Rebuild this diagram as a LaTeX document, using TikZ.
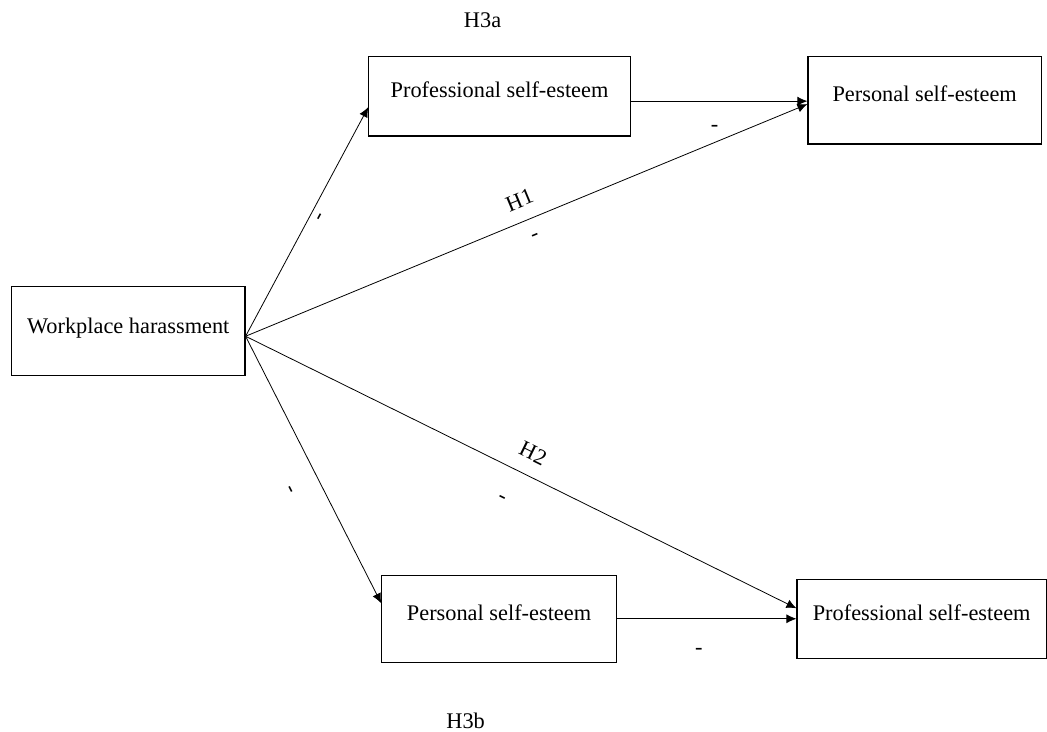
\documentclass[tikz,border=0pt]{standalone}
\usepackage{fontspec}
\setmainfont{Liberation Serif}
\usetikzlibrary{arrows.meta,positioning,calc}

\begin{document}
\begin{tikzpicture}[
  font=\fontsize{11.2}{13}\selectfont,
  box/.style={draw, line width=0.6pt, align=center, inner sep=0pt, text height=1.6ex, text depth=1.2ex},
  hyp/.style={inner sep=0pt},
  arrow/.style={-{Latex[length=5pt,width=4.5pt]}, line width=0.4pt}
]
\node[box, minimum width=117pt, minimum height=44.5pt] (wh) {Workplace harassment};
\node[box, minimum width=131pt, minimum height=40pt, above right=75pt and 61.5pt of wh] (tp) {Professional self-esteem};
\node[box, minimum width=117pt, minimum height=44pt, right=88.5pt of tp.north east, anchor=north west] (tq) {Personal self-esteem};
\node[box, minimum width=117.5pt, minimum height=43.5pt, below right=99.5pt and 68pt of wh] (bq) {Personal self-esteem};
\node[box, minimum width=125pt, minimum height=39.5pt, right=90pt of bq] (bp) {Professional self-esteem};

\node[hyp, above=14pt of tp, xshift=-8.5pt] (h3a) {H3a};
\node[hyp, below=25pt of bq, xshift=-16.75pt] (h3b) {H3b};

\draw[arrow] ([yshift=-2.5pt]wh.east) -- ([yshift=-5.5pt]tp.west) node[hyp, sloped, pos=0.54, below=4pt] (tk1) {-};
\draw[arrow] ([yshift=-2.5pt]tp.east) -- ([yshift=-2.5pt]tp.east -| tq.west) node[hyp, pos=0.475, below=12pt] (d1) {-};
\draw[arrow] ([yshift=-2.5pt]wh.east) -- ([yshift=-2pt]tq.west) node[hyp, sloped, pos=0.502, above=6.8pt] (h1) {H1} node[hyp, sloped, pos=0.503, below=8pt] (d2) {-};
\draw[arrow] ([yshift=-2.5pt]wh.east) -- ([yshift=7.75pt]bq.west) node[hyp, sloped, pos=0.523, below=13.8pt] (tk2) {-};
\draw[arrow] ([yshift=-2.5pt]wh.east) -- ([yshift=5.25pt]bp.west) node[hyp, sloped, pos=0.504, above=7.3pt] (h2) {H2} node[hyp, sloped, pos=0.491, below=15pt] (d3) {-};
\draw[arrow] (bq.east) -- (bq.east -| bp.west) node[hyp, pos=0.456, below=14.6pt] (d4) {-};

\useasboundingbox ($(wh.north west)+(-5.5pt,143.5pt)$) rectangle ++(523.5pt,-366.5pt);
\end{tikzpicture}
\end{document}
